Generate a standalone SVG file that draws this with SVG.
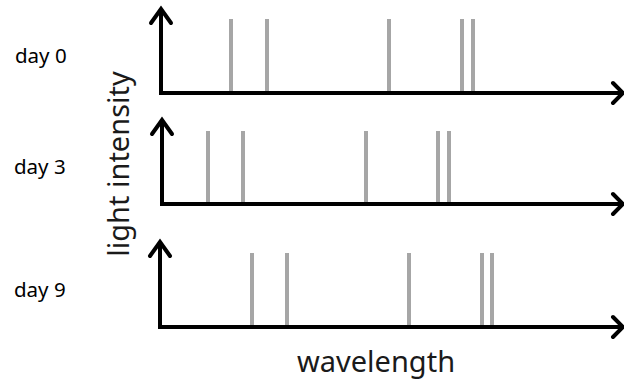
<svg xmlns="http://www.w3.org/2000/svg" width="624" height="383" viewBox="0 0 624 383">
<style>
.ax{stroke:#000;stroke-width:4;fill:none;stroke-linecap:butt;stroke-linejoin:miter}
.hd{stroke:#000;stroke-width:4;fill:none;stroke-linecap:round;stroke-linejoin:miter}
.ln{stroke:#a6a6a6;stroke-width:4}
.lbl{font-family:"Noto Sans","Open Sans",sans-serif;font-size:20.5px;fill:#000}
.big{font-family:"Noto Sans","Open Sans",sans-serif;font-size:29px;fill:#1a1a1a}
</style>
<rect width="624" height="383" fill="#fff"/>
<g id="panel-day0">
<text class="lbl" x="15" y="63">day 0</text>
<path class="ax" d="M161 9V93H621"/>
<path class="hd" d="M151 23L161 9L171 23"/>
<path class="hd" d="M613 83L623 93L613 103"/>
<line class="ln" x1="231" y1="19" x2="231" y2="91"/>
<line class="ln" x1="267" y1="19" x2="267" y2="91"/>
<line class="ln" x1="389" y1="19" x2="389" y2="91"/>
<line class="ln" x1="462" y1="19" x2="462" y2="91"/>
<line class="ln" x1="473" y1="19" x2="473" y2="91"/>
</g>
<g id="panel-day3">
<text class="lbl" x="14" y="174">day 3</text>
<path class="ax" d="M162 120V204H621"/>
<path class="hd" d="M152 134L162 120L172 134"/>
<path class="hd" d="M613 194L623 204L613 214"/>
<line class="ln" x1="208" y1="131" x2="208" y2="202"/>
<line class="ln" x1="243" y1="131" x2="243" y2="202"/>
<line class="ln" x1="366" y1="131" x2="366" y2="202"/>
<line class="ln" x1="438" y1="131" x2="438" y2="202"/>
<line class="ln" x1="449" y1="131" x2="449" y2="202"/>
</g>
<g id="panel-day9">
<text class="lbl" x="14" y="297">day 9</text>
<path class="ax" d="M160 242V327H621"/>
<path class="hd" d="M150 256L160 242L170 256"/>
<path class="hd" d="M613 317L623 327L613 337"/>
<line class="ln" x1="252" y1="253" x2="252" y2="325"/>
<line class="ln" x1="287" y1="253" x2="287" y2="325"/>
<line class="ln" x1="409" y1="253" x2="409" y2="325"/>
<line class="ln" x1="482" y1="253" x2="482" y2="325"/>
<line class="ln" x1="492" y1="253" x2="492" y2="325"/>
</g>
<g id="axis-labels">
<text class="big" x="0" y="0" text-anchor="middle" transform="translate(129 164) rotate(-90)">light intensity</text>
<text class="big" x="376" y="372" text-anchor="middle">wavelength</text>
</g>
</svg>
